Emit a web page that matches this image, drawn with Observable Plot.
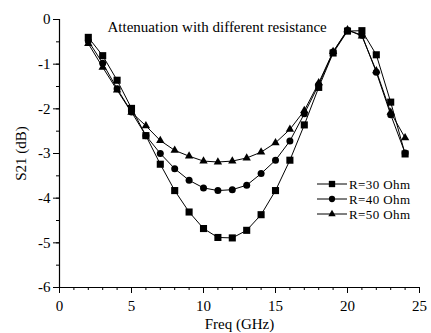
<!DOCTYPE html>
<html>
<head>
<meta charset="utf-8">
<script src="https://cdn.jsdelivr.net/npm/d3@7"></script>
<script src="https://cdn.jsdelivr.net/npm/@observablehq/plot@0.6"></script>
<style>
body { margin: 0; background: #fff; }
#wrap { position: relative; width: 431px; height: 333px; }
#legend { position: absolute; left: 0; top: 0; pointer-events: none; }
</style>
</head>
<body>
<div id="wrap"></div>
<script>
const freq = [2,3,4,5,6,7,8,9,10,11,12,13,14,15,16,17,18,19,20,21,22,23,24];
const r30 = [-0.40,-0.81,-1.36,-1.99,-2.60,-3.24,-3.83,-4.31,-4.68,-4.88,-4.89,-4.72,-4.37,-3.83,-3.15,-2.36,-1.52,-0.75,-0.26,-0.25,-0.79,-1.85,-3.01];
const r40 = [-0.48,-0.98,-1.55,-2.07,-2.60,-3.00,-3.34,-3.60,-3.77,-3.83,-3.81,-3.71,-3.45,-3.15,-2.72,-2.11,-1.46,-0.73,-0.24,-0.35,-1.18,-2.13,-2.99];
const r50 = [-0.54,-1.07,-1.58,-2.08,-2.38,-2.71,-2.93,-3.06,-3.17,-3.19,-3.17,-3.10,-2.97,-2.76,-2.46,-2.04,-1.42,-0.72,-0.23,-0.37,-1.15,-2.08,-2.65];
const seriesNames = ["R=30 Ohm", "R=40 Ohm", "R=50 Ohm"];
const symbols = ["square", "circle", "triangle"];
const radii = [4, 3.5, 3.1];
const xMajor = [0,5,10,15,20,25];
const xMinor = d3.range(0, 26, 1);
const yMajor = [0,-1,-2,-3,-4,-5,-6];
const yMinor = d3.range(-6, 0.01, 0.5);
const title = "Attenuation with different resistance";

const seriesVals = [r30, r40, r50];
const rows = seriesVals.flatMap((vals, i) => freq.map((f, j) => ({f, v: vals[j], s: seriesNames[i], k: i})));

const marks = [];
seriesVals.forEach((vals, i) => {
  const d = rows.filter(r => r.k === i);
  marks.push(Plot.line(d, {x: "f", y: "v", stroke: "black", strokeWidth: 1}));
});
seriesVals.forEach((vals, i) => {
  const d = rows.filter(r => r.k === i);
  marks.push(Plot.dot(d, {x: "f", y: "v", symbol: () => symbols[i], r: radii[i], fill: "black", stroke: "none"}));
});

const serif = "'Liberation Serif', 'Times New Roman', serif";
const chart = Plot.plot({
  width: 431, height: 333,
  marginLeft: 59, marginRight: 12, marginTop: 19, marginBottom: 46,
  style: {fontFamily: serif, fontSize: "15px", color: "black", background: "white"},
  x: {domain: [0, 25]},
  y: {domain: [-6, 0]},
  symbol: {type: "identity"},
  marks: [
    Plot.axisX(xMinor, {tickSize: 3, tickFormat: () => "", label: null, strokeWidth: 1}),
    Plot.axisX(xMajor, {tickSize: 6, tickPadding: 7, tickFormat: d => String(d), label: "Freq (GHz)", labelAnchor: "center", labelArrow: "none", labelOffset: 41, fontSize: 15}),
    Plot.axisY(yMinor, {tickSize: 3, tickFormat: () => "", label: null}),
    Plot.axisY(yMajor, {tickSize: 6, tickPadding: 3, tickFormat: d => String(d), label: "S21 (dB)", labelAnchor: "center", labelArrow: "none", labelOffset: 44, fontSize: 15}),
    Plot.ruleX([0], {stroke: "black", strokeWidth: 1.2}),
    Plot.ruleY([-6], {stroke: "black", strokeWidth: 1.2}),
    ...marks,
    Plot.text([title], {frameAnchor: "top-left", dx: 48, dy: 2, textAnchor: "start", lineAnchor: "top", fontSize: 15, fill: "black"})
  ]
});

const wrap = document.getElementById("wrap");
wrap.appendChild(chart);

// legend overlay
const lg = d3.select(wrap).append("svg").attr("id", "legend").attr("width", 431).attr("height", 333);
const row = lg.selectAll("g").data(seriesNames).join("g")
  .attr("transform", (d, i) => `translate(317, ${184 + i * 15})`);
row.append("line").attr("x1", 0).attr("x2", 30).attr("y1", 0).attr("y2", 0).attr("stroke", "black").attr("stroke-width", 1);
row.append("path")
  .attr("transform", "translate(15,0)")
  .attr("d", (d, i) => d3.symbol(i === 0 ? d3.symbolSquare : i === 1 ? d3.symbolCircle : d3.symbolTriangle, Math.PI * radii[i] * radii[i] * 0.8)())
  .attr("fill", "black");
row.append("text").attr("x", 32).attr("y", 0).attr("dy", "0.35em")
  .attr("font-family", serif).attr("font-size", 13).attr("letter-spacing", 0.4)
  .text(d => d);
</script>
</body>
</html>
